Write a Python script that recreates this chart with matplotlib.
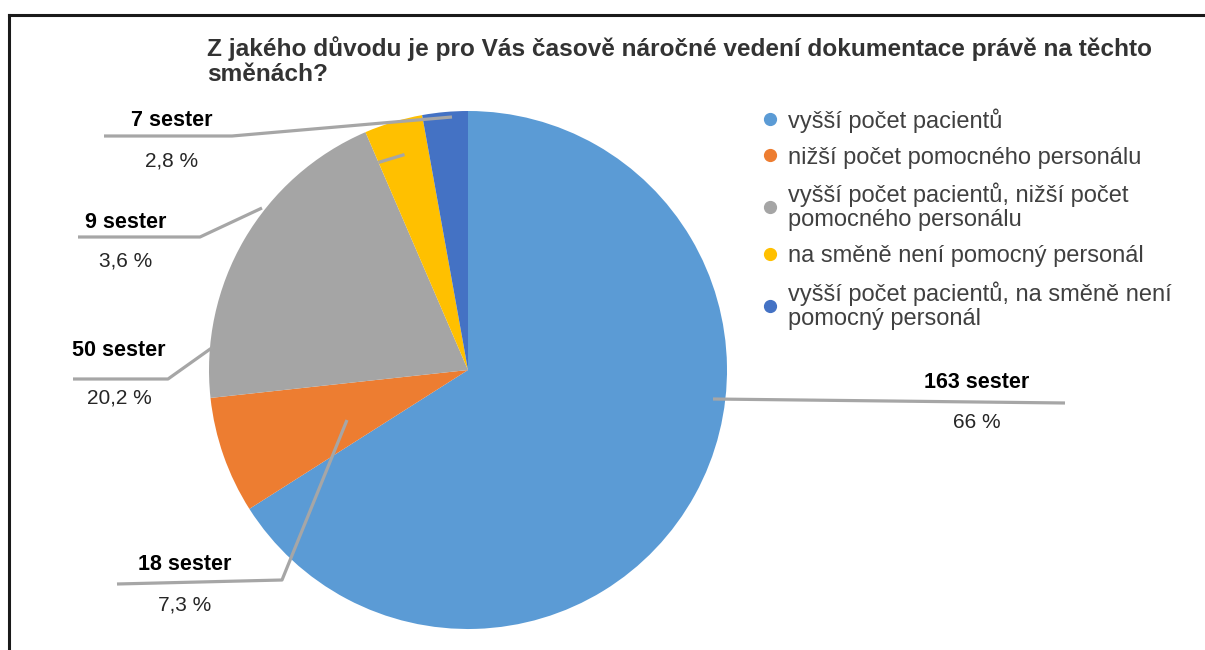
import matplotlib.pyplot as plt
from matplotlib.lines import Line2D
from matplotlib.patches import Rectangle

plt.rcParams['font.family'] = ['Liberation Sans', 'DejaVu Sans']

# data
categories = ['vyšší počet pacientů',
              'nižší počet pomocného personálu',
              'vyšší počet pacientů, nižší počet\npomocného personálu',
              'na směně není pomocný personál',
              'vyšší počet pacientů, na směně není\npomocný personál']
counts = [163, 18, 50, 9, 7]
colors = ['#5B9BD5', '#ED7D31', '#A5A5A5', '#FFC000', '#4472C4']
title = ('Z jakého důvodu je pro Vás časově náročné vedení dokumentace právě na těchto\n'
         'směnách?')

# label layout in pixels: text centre x, count y, percent y, leader path
label_layout = [
    (977, 383, 423, [(713, 399), (1065, 403)]),
    (185, 565, 605, [(347, 420), (282, 580), (117, 584)]),
    (119, 351, 398, [(213, 347), (168, 379), (73, 379)]),
    (126, 222, 261, [(262, 208), (200, 237), (78, 237)]),
    (172, 121, 161, [(452, 117), (232, 136), (104, 136)]),
]

fig = plt.figure(figsize=(12.05, 6.5), dpi=100)
ax = fig.add_axes([0, 0, 1, 1])

# pie in pixel coords (y axis inverted -> start/counterclock flipped)
wedges, _ = ax.pie(counts, colors=colors, center=(468, 370), radius=259,
                   startangle=-90, counterclock=True,
                   wedgeprops=dict(linewidth=0))
ax.set_xlim(0, 1205)
ax.set_ylim(650, 0)
ax.set_aspect('auto')
ax.axis('off')

# plot area cuts the pie slightly on the left
clip = Rectangle((212, 0), 1000, 650, transform=ax.transData)
for w in wedges:
    w.set_clip_path(clip)

total = sum(counts)
line_col = '#A6A6A6'
for cnt, (tx, cy, py, path) in zip(counts, label_layout):
    xs = [p[0] for p in path]
    ys = [p[1] for p in path]
    ax.plot(xs, ys, color=line_col, lw=2.3, solid_capstyle='butt', zorder=3)
    pct = f'{cnt / total * 100:.1f}'.replace('.', ',')
    if pct.endswith(',0'):
        pct = pct[:-2]
    ax.text(tx, cy, f'{cnt} sester', ha='center', va='center',
            fontsize=15.5, fontweight='bold', color='black')
    ax.text(tx, py, f'{pct} %', ha='center', va='center',
            fontsize=15, color='#262626')

# stray leader inside the yellow slice
ax.plot([380, 403], [162, 155], color=line_col, lw=2.3, zorder=3)

ax.text(207, 36, title, ha='left', va='top', fontsize=17.6,
        fontweight='bold', color='#333333', linespacing=1.1)

handles = [Line2D([], [], marker='o', linestyle='', markersize=8.5,
                  markerfacecolor=c, markeredgecolor=c) for c in colors]
leg = ax.legend(handles, categories, loc='upper left',
                bbox_to_anchor=(763, 108), bbox_transform=ax.transData,
                frameon=False, fontsize=17, handlelength=0.6,
                handletextpad=0.45, labelspacing=0.6, borderpad=0,
                borderaxespad=0)
for t in leg.get_texts():
    t.set_color('#404040')
    t.set_linespacing(1.1)

# black frame lines (top and left)
ax.plot([9, 1205], [14.5, 14.5], color='#1a1a1a', lw=2.2)
ax.plot([9, 9], [14.5, 650], color='#1a1a1a', lw=2.2)

plt.savefig('out.png', dpi=100)
